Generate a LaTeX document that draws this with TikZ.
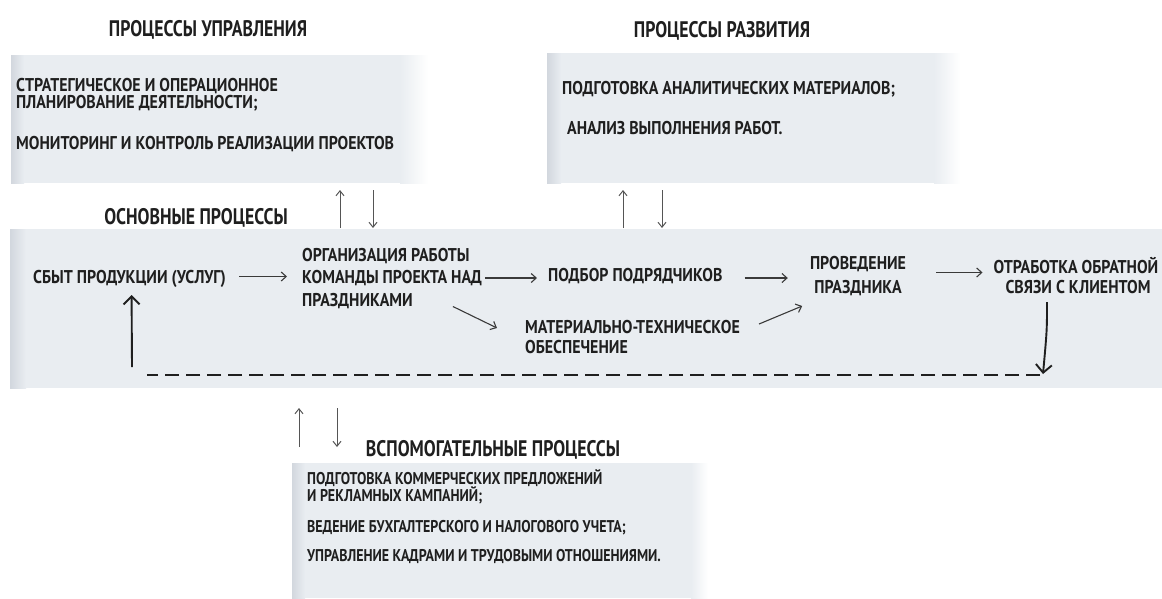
\documentclass[tikz,border=0pt]{standalone}
\usepackage{fontspec}
\setmainfont{PT Sans}
\newfontfamily\bodyfont{PT Sans}[FakeStretch=0.86]
\newfontfamily\titlefont{PT Sans}[FakeStretch=0.79]
\newfontfamily\auxfont{PT Sans}[FakeStretch=0.82]
\usetikzlibrary{arrows.meta,calc}
\definecolor{boxc}{HTML}{E9EDF1}
\definecolor{edgec}{HTML}{D2D7DE}
\definecolor{txt}{HTML}{1F1F1F}
\definecolor{arrc}{HTML}{3A3A3A}
\definecolor{varrc}{HTML}{555555}
\begin{document}
\begin{tikzpicture}[x=1pt,y=-1pt,
  titlef/.style={font=\titlefont\fontsize{22.5}{23}\selectfont\bfseries, text=txt, inner sep=0, anchor=base},
  bodyf/.style={font=\bodyfont\fontsize{18.5}{19}\selectfont\bfseries, text=txt, inner sep=0, anchor=base west},
  bodyc/.style={bodyf, anchor=base},
  auxf/.style={font=\auxfont\fontsize{17}{18}\selectfont\bfseries, text=txt, inner sep=0, anchor=base west},
  arr/.style={-{Straight Barb[length=5pt,width=9pt]}, line width=1.1pt, draw=arrc},
  varr/.style={-{Straight Barb[length=5pt,width=8pt]}, line width=1pt, draw=varrc},
  bigarr/.style={-{Straight Barb[length=8pt,width=16pt]}, line width=1.9pt, draw=black!88},
  boxn/.style={fill=boxc, draw=none, inner sep=0, outer sep=0, anchor=north west}]
\useasboundingbox (0,0) rectangle (1162,598);
\fill[white] (0,0) rectangle (1162,598);

% boxes
\node[boxn, minimum width=390pt, minimum height=128pt] (Bm) at (11,55) {};
\shade[left color=boxc, right color=white] (400,55) rectangle (428,183);
\shade[left color=edgec, right color=boxc] (11,55) rectangle (24,183);

\node[boxn, minimum width=388pt, minimum height=130pt] (Bd) at (547,53) {};
\shade[left color=boxc, right color=white] (934,53) rectangle (960,183);
\shade[left color=edgec, right color=boxc] (547,53) rectangle (561,183);

\node[boxn, minimum width=1152pt, minimum height=159pt] (Bo) at (10,229) {};
\shade[left color=edgec, right color=boxc] (10,229) rectangle (26,388);

\node[boxn, minimum width=400pt, minimum height=135pt] (Ba) at (292,463) {};
\shade[left color=boxc, right color=white] (691,463) rectangle (708,598);
\shade[left color=edgec, right color=boxc] (292,463) rectangle (305,598);

% titles
\node[titlef] (Tm) at (208,36.5) {ПРОЦЕССЫ УПРАВЛЕНИЯ};
\node[titlef] (Td) at (722,37.5) {ПРОЦЕССЫ РАЗВИТИЯ};
\node[titlef] (To) at (196,224.5) {ОСНОВНЫЕ ПРОЦЕССЫ};
\node[titlef] (Ta) at (493,456.5) {ВСПОМОГАТЕЛЬНЫЕ ПРОЦЕССЫ};

% management texts
\node[bodyf] (m1) at (16,91.5) {СТРАТЕГИЧЕСКОЕ И ОПЕРАЦИОННОЕ};
\node[bodyf] (m2) at (16,108) {ПЛАНИРОВАНИЕ ДЕЯТЕЛЬНОСТИ;};
\node[bodyf] (m3) at (16,149.5) {МОНИТОРИНГ И КОНТРОЛЬ РЕАЛИЗАЦИИ ПРОЕКТОВ};

% development texts
\node[bodyf] (d1) at (562,94.5) {ПОДГОТОВКА АНАЛИТИЧЕСКИХ МАТЕРИАЛОВ;};
\node[bodyf] (d2) at (567,134.5) {АНАЛИЗ ВЫПОЛНЕНИЯ РАБОТ.};

% main process texts
\node[bodyf] (sbyt) at (33,283.5) {СБЫТ ПРОДУКЦИИ (УСЛУГ)};
\node[bodyf] (org1) at (302,261.5) {ОРГАНИЗАЦИЯ РАБОТЫ};
\node[bodyf] (org2) at (302,283.5) {КОМАНДЫ ПРОЕКТА НАД};
\node[bodyf] (org3) at (302,306.5) {ПРАЗДНИКАМИ};
\node[bodyf] (podbor) at (548,281.5) {ПОДБОР ПОДРЯДЧИКОВ};
\node[bodyf] (mat1) at (525,333.5) {МАТЕРИАЛЬНО-ТЕХНИЧЕСКОЕ};
\node[bodyf] (mat2) at (525,353.5) {ОБЕСПЕЧЕНИЕ};
\node[bodyc] (prov1) at (858,269.5) {ПРОВЕДЕНИЕ};
\node[bodyc] (prov2) at (858,293.5) {ПРАЗДНИКА};
\node[bodyc] (otr1) at (1076,273.5) {ОТРАБОТКА ОБРАТНОЙ};
\node[bodyc] (otr2) at (1078,293.5) {СВЯЗИ С КЛИЕНТОМ};

% auxiliary texts
\node[auxf] (a1) at (307,484.5) {ПОДГОТОВКА КОММЕРЧЕСКИХ ПРЕДЛОЖЕНИЙ};
\node[auxf] (a2) at (307,501.5) {И РЕКЛАМНЫХ КАМПАНИЙ;};
\node[auxf] (a3) at (307,532.5) {ВЕДЕНИЕ БУХГАЛТЕРСКОГО И НАЛОГОВОГО УЧЕТА;};
\node[auxf] (a4) at (307,561.5) {УПРАВЛЕНИЕ КАДРАМИ И ТРУДОВЫМИ ОТНОШЕНИЯМИ.};

% main flow arrows
\draw[arr] ($(sbyt.base east)+(13,-7)$) -- ($(org2.base west)+(-15,-7)$);
\draw[arr] ($(org2.base east)+(3,-5.5)$) -- ($(podbor.base west)+(-11,-3.5)$);
\draw[arr] ($(org3.base east)+(40,0)$) -- ($(mat1.base west)+(-28,-5.5)$);
\draw[arr] ($(podbor.base east)+(22,-3.5)$) -- ($(prov1.base west)+(-22,8.5)$);
\draw[arr] ($(mat1.base east)+(19,-9.5)$) -- ($(prov2.base west)+(-12,12.5)$);
\draw[arr] ($(prov1.base east)+(30,3)$) -- ($(otr1.base west)+(-11,-1)$);

% feedback loop
\coordinate (dR) at (1043,374);
\coordinate (dL) at (147,375);
\coordinate (uL) at (132,367);
\draw[bigarr] ($(otr2.base)+(-31,8.5)$) .. controls (1047,330) .. (dR);
\draw[line width=2pt, draw=black!88, dash pattern=on 14pt off 7pt] (1040,375) -- (dL);
\draw[bigarr] (uL) -- ($(sbyt.base)+(2,11.5)$);

% vertical arrow pairs
\draw[varr] ($(Bo.north west)+(330,-1)$) -- ($(Bm.south west)+(329,7)$);
\draw[varr] ($(Bm.south west)+(362,7)$) -- ($(Bo.north west)+(363,-1)$);
\draw[varr] ($(Bo.north west)+(613,-1)$) -- ($(Bd.south west)+(76,7)$);
\draw[varr] ($(Bd.south west)+(115,7)$) -- ($(Bo.north west)+(652,-1)$);
\draw[varr] ($(Ba.north west)+(7,-16)$) -- ($(Bo.south west)+(289,20)$);
\draw[varr] ($(Bo.south west)+(327,20)$) -- ($(Ba.north west)+(45,-16)$);
\end{tikzpicture}
\end{document}
